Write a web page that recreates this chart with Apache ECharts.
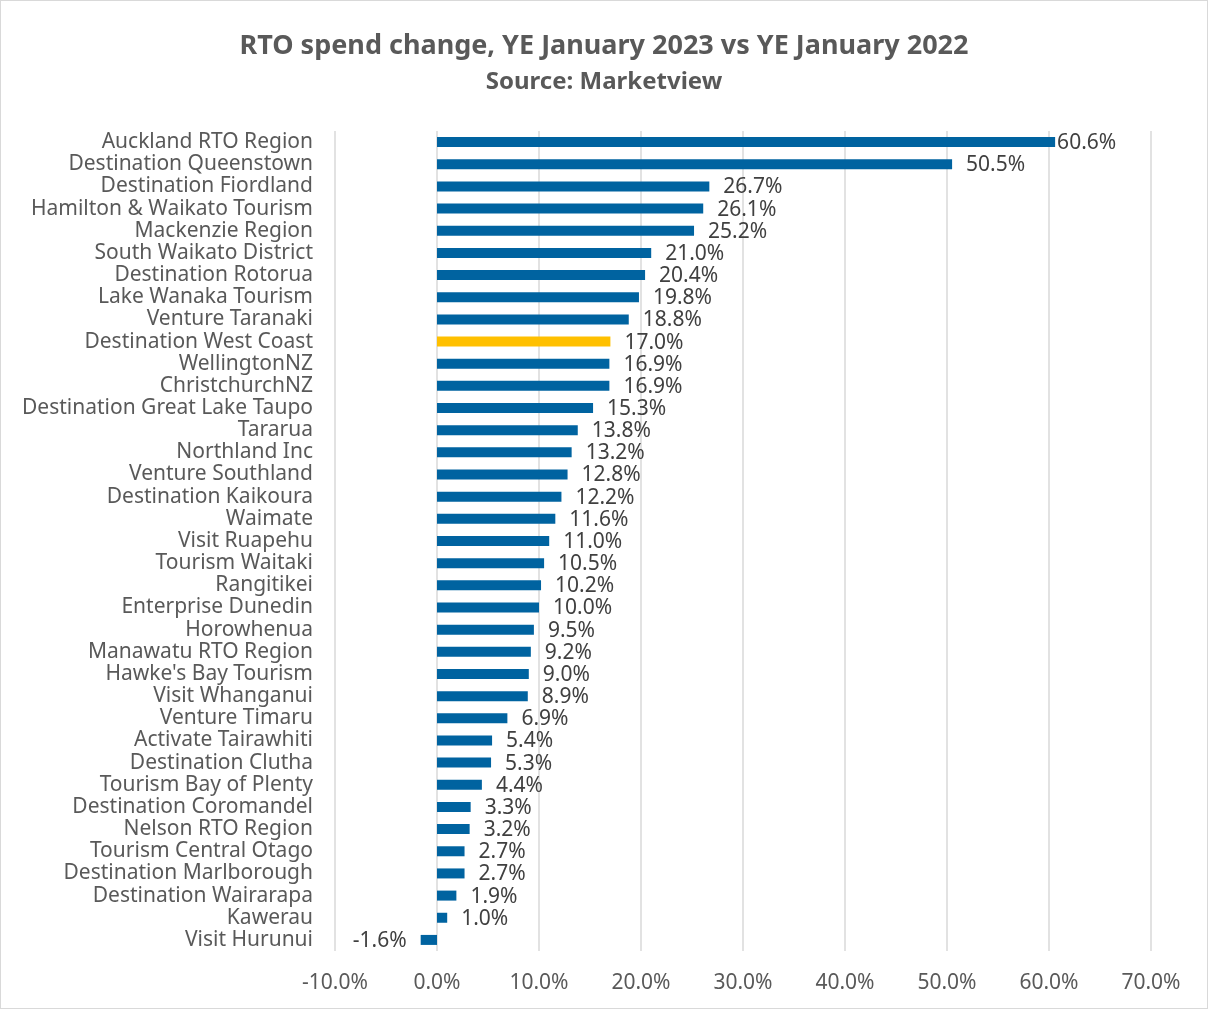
<!DOCTYPE html>
<html>
<head>
<meta charset="utf-8">
<script src="https://cdn.jsdelivr.net/npm/echarts@6/dist/echarts.min.js"></script>
<style>
  html, body { margin: 0; padding: 0; background: #fff; }
  #chart { width: 1206px; height: 1007px; border: 1px solid #d9d9d9; }
</style>
</head>
<body>
<div id="chart"></div>
<script>
// categories listed top to bottom
const regions = [
  'Auckland RTO Region', 'Destination Queenstown', 'Destination Fiordland',
  'Hamilton & Waikato Tourism', 'Mackenzie Region', 'South Waikato District',
  'Destination Rotorua', 'Lake Wanaka Tourism', 'Venture Taranaki',
  'Destination West Coast', 'WellingtonNZ', 'ChristchurchNZ',
  'Destination Great Lake Taupo', 'Tararua', 'Northland Inc',
  'Venture Southland', 'Destination Kaikoura', 'Waimate', 'Visit Ruapehu',
  'Tourism Waitaki', 'Rangitikei', 'Enterprise Dunedin', 'Horowhenua',
  'Manawatu RTO Region', "Hawke's Bay Tourism", 'Visit Whanganui',
  'Venture Timaru', 'Activate Tairawhiti', 'Destination Clutha',
  'Tourism Bay of Plenty', 'Destination Coromandel', 'Nelson RTO Region',
  'Tourism Central Otago', 'Destination Marlborough', 'Destination Wairarapa',
  'Kawerau', 'Visit Hurunui'
]
const spendChange = [
  60.6, 50.5, 26.7, 26.1, 25.2, 21.0, 20.4, 19.8, 18.8, 17.0, 16.9, 16.9,
  15.3, 13.8, 13.2, 12.8, 12.2, 11.6, 11.0, 10.5, 10.2, 10.0, 9.5, 9.2,
  9.0, 8.9, 6.9, 5.4, 5.3, 4.4, 3.3, 3.2, 2.7, 2.7, 1.9, 1.0, -1.6
]
const highlight = 'Destination West Coast'

const FONT = 'Noto Sans'
const chart = echarts.init(document.getElementById('chart'))

const seriesData = spendChange.map((v, i) => {
  const item = {
    value: v,
    itemStyle: { color: regions[i] === highlight ? '#FFC000' : '#0063A0' },
    label: {}
  }
  if (v < 0) item.label.position = 'left'
  if (i === 0) item.label.distance = 2
  return item
})

chart.setOption({
  backgroundColor: '#fff',
  animation: false,
  title: {
    text: 'RTO spend change, YE January 2023 vs YE January 2022',
    subtext: 'Source: Marketview',
    left: 'center',
    top: 27,
    itemGap: 10,
    textStyle: { fontFamily: FONT, fontSize: 27, fontWeight: 'bold', color: '#595959' },
    subtextStyle: { fontFamily: FONT, fontSize: 24, fontWeight: 'bold', color: '#595959' }
  },
  grid: {
    left: 334,
    right: 56,
    top: 130,
    bottom: 57,
    containLabel: false
  },
  xAxis: {
    type: 'value',
    min: -10,
    max: 70,
    interval: 10,
    axisLine: { show: false },
    axisTick: { show: false },
    splitLine: { lineStyle: { color: '#d9d9d9', width: 1.5 } },
    axisLabel: {
      fontFamily: FONT,
      fontSize: 21,
      color: '#595959',
      margin: 22,
      formatter: v => v.toFixed(1) + '%'
    }
  },
  yAxis: {
    type: 'category',
    inverse: true,
    data: regions,
    axisLine: { show: false, onZero: false },
    axisTick: { show: false },
    axisLabel: {
      interval: 0,
      fontFamily: FONT,
      fontSize: 21,
      color: '#595959',
      margin: 22
    }
  },
  series: [{
    type: 'bar',
    data: seriesData,
    barWidth: 10,
    label: {
      show: true,
      position: 'right',
      distance: 14,
      offset: [0, 1],
      fontFamily: FONT,
      fontSize: 21,
      color: '#404040',
      formatter: p => p.value.toFixed(1) + '%'
    }
  }]
})
</script>
</body>
</html>
